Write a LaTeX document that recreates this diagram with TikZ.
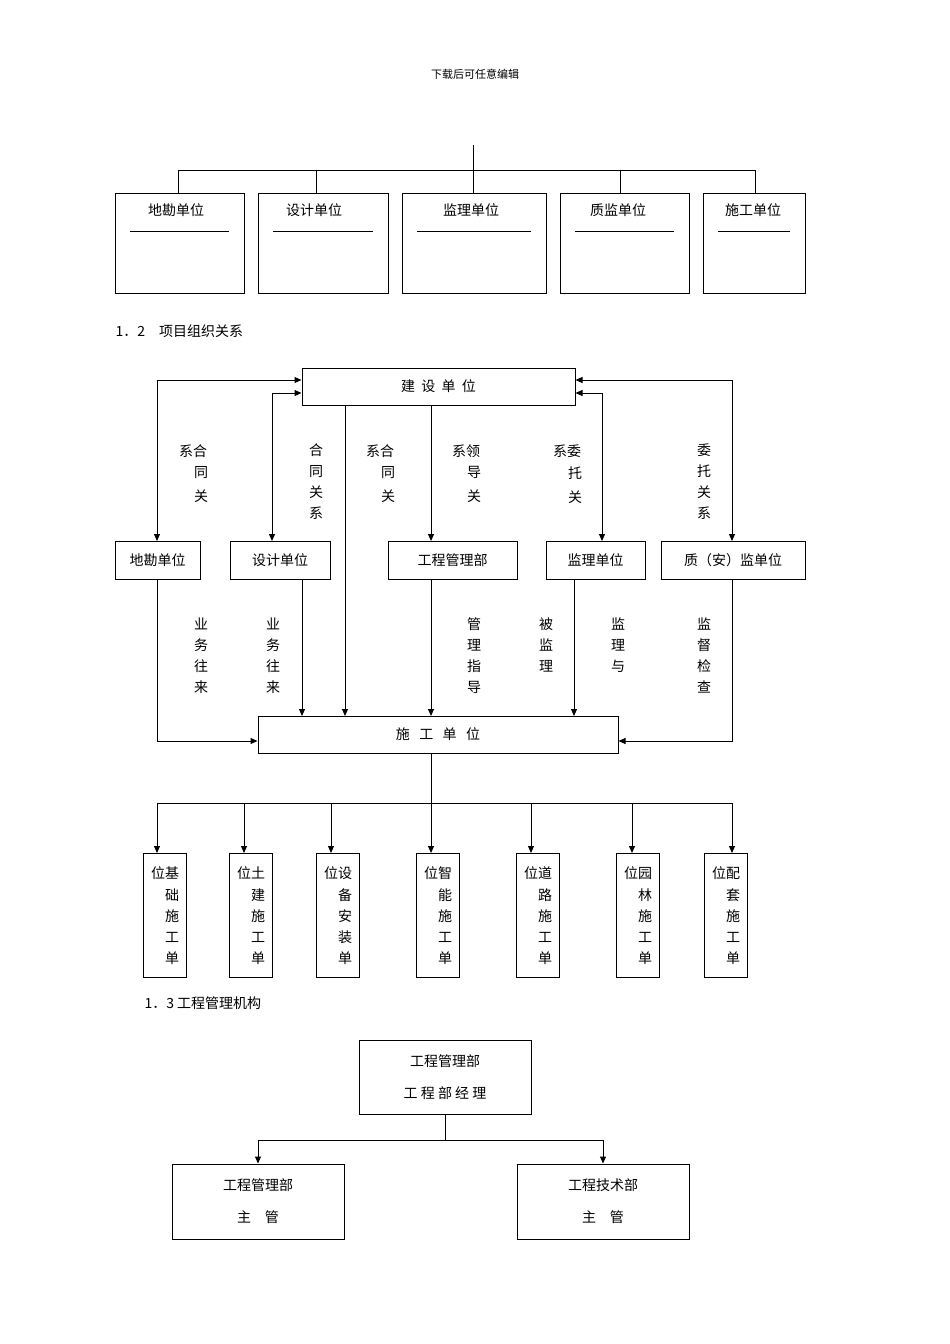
\documentclass[tikz,border=0pt]{standalone}
\usepackage{fontspec}
\setmainfont{Noto Sans CJK SC}
\usetikzlibrary{arrows.meta}
\begin{document}
\begin{tikzpicture}[x=1pt,y=-1pt,line width=1pt,
  bx/.style={draw,rectangle,inner sep=0pt,font=\fontsize{14}{14}\selectfont},
  tx/.style={font=\fontsize{14}{14}\selectfont,inner sep=0pt},
  vt/.style={font=\fontsize{14}{21}\selectfont,inner sep=0pt,align=center},
  ar/.style={-{Triangle[length=7pt,width=6pt]}},
  dar/.style={{Triangle[length=7pt,width=6pt]}-{Triangle[length=7pt,width=6pt]}}]
\useasboundingbox (0,0) rectangle (950,1344);
\node[tx,font=\fontsize{11}{11}\selectfont] (hd) at (475,74) {下载后可任意编辑};
% top section
\coordinate (t0) at (473,145);
\coordinate (t1) at (473,170);
\draw (t0)--(t1);
\draw (178,170)--(755,170);
\foreach \n/\a/\b/\c/\t in {a/115/244/178/地勘单位, b/258/388/316/设计单位, c/402/546/473/监理单位, d/560/689/620/质监单位, e/703/805/755/施工单位}{
  \draw (\a,193) rectangle (\b,293);
  \node[tx] (top\n) at (\c-2,210) {\t};
  \draw (\a+15,231)--(\b-15,231);
  \draw (\c,170)--(\c,193);
}
\node[tx,anchor=west] (s12) at (115,331) {1．2　项目组织关系};
% middle section
\node[bx,minimum width=273pt,minimum height=37pt] (js) at (438.5,386.5) {建\ \ 设\ \ 单\ \ 位};
\node[bx,minimum width=85pt,minimum height=38pt] (dk) at (157.5,560) {地勘单位};
\node[bx,minimum width=100pt,minimum height=38pt] (sj) at (280,560) {设计单位};
\node[bx,minimum width=129pt,minimum height=38pt] (gc) at (452.5,560) {工程管理部};
\node[bx,minimum width=99pt,minimum height=38pt] (jl) at (595.5,560) {监理单位};
\node[bx,minimum width=144pt,minimum height=38pt] (zj) at (733,560) {质（安）监单位};
\node[bx,minimum width=360pt,minimum height=37pt] (sg) at (438,734.5) {施\ \ \ 工\ \ \ 单\ \ \ 位};
\draw[dar] (js.west|-0,380) -- (157,380) -- (157,541);
\draw[dar] (js.west|-0,393) -- (272,393) -- (272,541);
\draw[dar] (js.east|-0,380) -- (732,380) -- (732,541);
\draw[dar] (js.east|-0,393) -- (602,393) -- (602,541);
\draw[ar] (345,405) -- (345,716);
\draw[ar] (431,405) -- (431,541);
\draw[ar] (157,579) -- (157,741) -- (sg.west|-0,741);
\draw[ar] (302,579) -- (302,716);
\draw[ar] (431,579) -- (431,716);
\draw[ar] (574,579) -- (574,716);
\draw[ar] (732,579) -- (732,741) -- (sg.east|-0,741);
\node[tx] (l1a) at (193,451) {系合};
\node[vt,anchor=north] (l1b) at (201,466) {同\\[3pt]关};
\node[vt,anchor=north] (l2) at (316,443) {合\\同\\关\\系};
\node[tx] (l3a) at (380,451) {系合};
\node[vt,anchor=north] (l3b) at (388,466) {同\\[3pt]关};
\node[tx] (l4a) at (466,451) {系领};
\node[vt,anchor=north] (l4b) at (474,466) {导\\[3pt]关};
\node[tx] (l5a) at (567,451) {系委};
\node[vt,anchor=north] (l5b) at (575,466) {托\\[3pt]关};
\node[vt,anchor=north] (l6) at (704,443) {委\\托\\关\\系};
\node[vt,anchor=north] (m1) at (201,617) {业\\务\\往\\来};
\node[vt,anchor=north] (m2) at (273,617) {业\\务\\往\\来};
\node[vt,anchor=north] (m3) at (474,617) {管\\理\\指\\导};
\node[vt,anchor=north] (m4) at (546,617) {被\\监\\理};
\node[vt,anchor=north] (m5) at (618,617) {监\\理\\与};
\node[vt,anchor=north] (m6) at (704,617) {监\\督\\检\\查};
% bottom row
\draw (sg.south-|431,0) -- (431,803);
\draw (157,803) -- (732,803);
\foreach \n/\c/\ta/\tb/\tc/\td/\te in {1/165/位基/础/施/工/单, 2/251/位土/建/施/工/单, 3/338/位设/备/安/装/单, 4/438/位智/能/施/工/单, 5/538/位道/路/施/工/单, 6/638/位园/林/施/工/单, 7/726/位配/套/施/工/单}{
  \node[draw,minimum width=43pt,minimum height=124pt,inner sep=0pt] (u\n) at (\c,915) {};
  \node[tx] at (\c,873) {\ta};
  \node[tx] at (\c+7,895) {\tb};
  \node[tx] at (\c+7,916) {\tc};
  \node[tx] at (\c+7,937) {\td};
  \node[tx] at (\c+7,958) {\te};
}
\foreach \x/\n in {157/1,244/2,331/3,431/4,531/5,632/6,732/7}{
  \draw[ar] (\x,803) -- (\x,853);
}
\node[tx,anchor=west] (s13) at (144,1003) {1．3 工程管理机构};
\node[bx,minimum width=172pt,minimum height=74pt,align=center,font=\fontsize{14}{32}\selectfont] (gb) at (445,1077) {工程管理部\\工\ 程\ 部\ 经\ 理};
\node[bx,minimum width=172pt,minimum height=75pt,align=center,font=\fontsize{14}{32}\selectfont] (gl) at (258,1201.5) {工程管理部\\主\quad 管};
\node[bx,minimum width=172pt,minimum height=75pt,align=center,font=\fontsize{14}{32}\selectfont] (gr) at (603,1201.5) {工程技术部\\主\quad 管};
\draw (gb.south) -- (445,1140);
\draw[ar] (445,1140) -- (258,1140) -- (gl.north);
\draw[ar] (445,1140) -- (603,1140) -- (gr.north);
\end{tikzpicture}
\end{document}
